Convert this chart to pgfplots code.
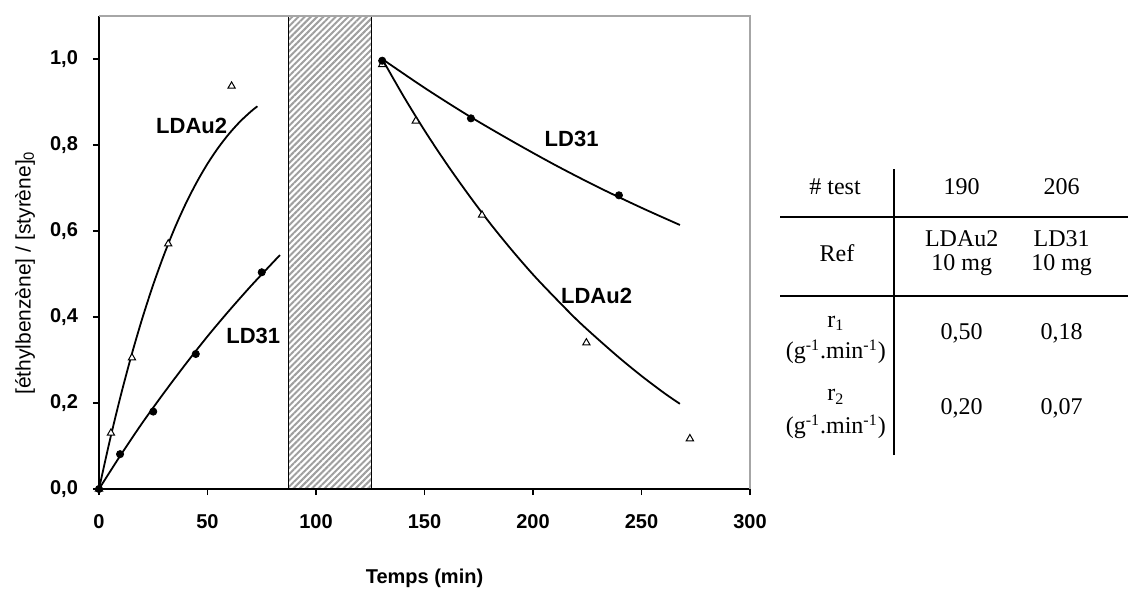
\documentclass[border=0pt]{standalone}
\usepackage{fontspec}
\setmainfont{Liberation Sans}
\newfontfamily\timesf{Liberation Serif}
\usepackage{pgfplots}
\pgfplotsset{compat=1.18}
\usetikzlibrary{patterns.meta}

\begin{document}
\begin{tikzpicture}
\path[use as bounding box] (-49.5pt,-50pt) rectangle (515pt,244.5pt);
\begin{axis}[
  at={(0,0)}, anchor=south west,
  scale only axis, width=325.5pt, height=236.5pt,
  xmin=0, xmax=300, ymin=0, ymax=1.1,
  axis x line*=bottom, axis y line*=left,
  xtick={0,50,100,150,200,250,300},
  ytick={0,0.2,0.4,0.6,0.8,1.0},
  tick align=outside, major tick length=3pt,
  tick style={black, line width=0.6pt},
  axis line style={black, line width=0.6pt},
  /pgf/number format/assume math mode=true,
  yticklabel style={/pgf/number format/.cd, fixed, fixed zerofill, precision=1, use comma, /tikz/.cd, xshift=-4pt},
  ticklabel style={font=\bfseries\fontsize{10}{12}\selectfont},
  xticklabel style={yshift=-6pt},
  xlabel={Temps (min)},
  xlabel style={font=\bfseries\fontsize{10}{12}\selectfont, at={(axis description cs:0.5,-0.188)}, anchor=center},
  ylabel={[éthylbenzène] / [styrène]\textsubscript{0}},
  ylabel style={font=\fontsize{10.5}{12}\selectfont, at={(axis description cs:-0.1137,0.457)}, anchor=center},
  clip=false,
]
% hatched interruption
\addplot[draw=black, line width=0.6pt, pattern={Lines[angle=45,distance=2.2pt,line width=1pt]}, pattern color=gray!75]
  coordinates {(87.3,0) (87.3,1.1) (125.7,1.1) (125.7,0)} -- cycle;

% fitted curves
\addplot[black, line width=0.9pt, smooth, no marks] coordinates {
 (0,0) (5,0.1132) (10,0.2169) (15,0.3116) (20,0.3976) (25,0.4754) (30,0.5453) (35,0.6080) (40,0.6638) (45,0.7130) (50,0.7564) (55,0.7940) (60,0.8265) (65,0.8544) (70,0.8779) (73,0.89)};
\addplot[black, line width=0.9pt, smooth, no marks] coordinates {
 (0,0) (10,0.079) (20,0.154) (30,0.224) (40,0.291) (50,0.355) (60,0.415) (70,0.472) (80,0.526) (83.4,0.544)};
\addplot[black, line width=0.9pt, smooth, no marks] coordinates {
 (130.5,1.0) (140.5,0.912) (150.5,0.830) (160.5,0.754) (170.5,0.683) (180.5,0.616) (190.5,0.554) (200.5,0.496) (210.5,0.443) (220.5,0.392) (230.5,0.346) (240.5,0.302) (250.5,0.261) (260.5,0.223) (267.7,0.198)};
\addplot[black, line width=0.9pt, smooth, no marks] coordinates {
 (130.5,1.0) (150,0.933) (170,0.869) (190,0.810) (210,0.754) (230,0.702) (250,0.654) (267.7,0.614)};

% data: LDAu2 (open triangles)
\addplot[only marks, mark=triangle*, mark size=2.1pt, mark options={fill=white, draw=black, line width=0.5pt}] coordinates {
 (0,0) (5.5,0.13) (15.2,0.305) (31.9,0.57) (61.1,0.937)
 (130.5,0.987) (146,0.856) (176.5,0.637) (224.6,0.34) (272.3,0.117)};
% data: LD31 (filled circles)
\addplot[only marks, mark=*, mark size=1.8pt, mark options={fill=black, draw=black}] coordinates {
 (0,0) (9.7,0.081) (25,0.18) (44.6,0.314) (75,0.504)
 (130.5,0.996) (171.4,0.862) (239.6,0.683)};

% curve labels
\node[font=\bfseries\fontsize{11}{13}\selectfont] at (axis cs:42.7,0.845) {LDAu2};
\node[font=\bfseries\fontsize{11}{13}\selectfont] at (axis cs:71.1,0.355) {LD31};
\node[font=\bfseries\fontsize{11}{13}\selectfont] at (axis cs:217.8,0.8135) {LD31};
\node[font=\bfseries\fontsize{11}{13}\selectfont] at (axis cs:229.3,0.448) {LDAu2};

% gray top/right frame
\draw[gray!70, line width=0.6pt] (rel axis cs:0,1) -- (rel axis cs:1,1) -- (rel axis cs:1,0);
\end{axis}

% table
\draw[black, line width=0.8pt] (397.5pt,17pt) -- (397.5pt,160pt);
\draw[black, line width=0.8pt] (340.5pt,135.85pt) -- (514.5pt,135.85pt);
\draw[black, line width=0.8pt] (340.5pt,96.5pt) -- (514.5pt,96.5pt);
\begin{scope}[every node/.style={font=\timesf\fontsize{12}{14}\selectfont, inner sep=0pt}]
\node at (368pt,151.15pt) {\# test};
\node at (431.35pt,151.15pt) {190};
\node at (481.3pt,151.15pt) {206};
\node at (369pt,118.15pt) {Ref};
\node at (431.35pt,125pt) {LDAu2};
\node at (431.35pt,112pt) {10 mg};
\node at (481.3pt,125pt) {LD31};
\node at (481.3pt,112pt) {10 mg};
\node at (368.4pt,82.85pt) {r\textsubscript{1}};
\node at (368.4pt,68.65pt) {(g\textsuperscript{-1}.min\textsuperscript{-1})};
\node at (431.35pt,77.85pt) {0,50};
\node at (481.3pt,77.85pt) {0,18};
\node at (368.4pt,46.15pt) {r\textsubscript{2}};
\node at (368.4pt,31.15pt) {(g\textsuperscript{-1}.min\textsuperscript{-1})};
\node at (431.35pt,40.35pt) {0,20};
\node at (481.3pt,40.35pt) {0,07};
\end{scope}
\end{tikzpicture}
\end{document}
